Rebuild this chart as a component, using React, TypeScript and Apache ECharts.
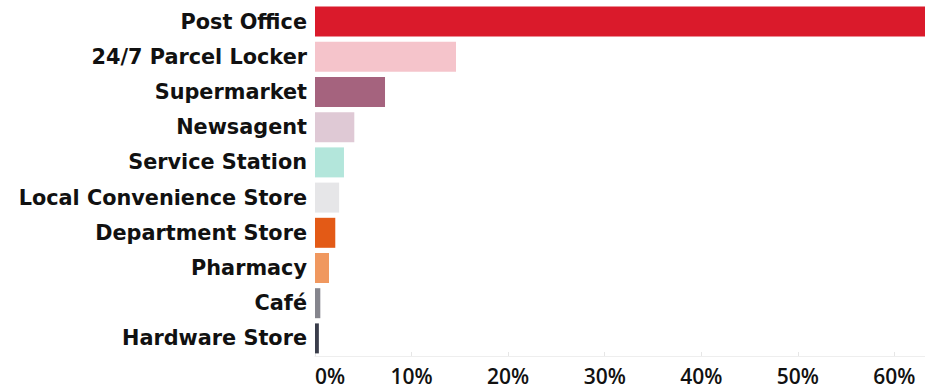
import React, { useEffect, useRef } from "react";
import * as echarts from "echarts";

const categories = [
  "Post Office",
  "24/7 Parcel Locker",
  "Supermarket",
  "Newsagent",
  "Service Station",
  "Local Convenience Store",
  "Department Store",
  "Pharmacy",
  "Café",
  "Hardware Store",
];
const values = [64, 14.6, 7.25, 4.07, 3.0, 2.5, 2.1, 1.45, 0.55, 0.4];
const colors = [
  "#DA1A2B",
  "#F5C4CB",
  "#A5637E",
  "#DFC9D5",
  "#B3E6DB",
  "#E6E6E8",
  "#E35A16",
  "#F0985F",
  "#85858D",
  "#3A3D4B",
];
const tickValues = [0, 10, 20, 30, 40, 50, 60, 70];

export default function App() {
  const ref = useRef<HTMLDivElement>(null);
  useEffect(() => {
    if (!ref.current) return;
    const chart = echarts.init(ref.current, null, { renderer: "svg" });
    chart.setOption({
      animation: false,
      grid: { left: 315, top: 4, bottom: 34, right: -66, outerBoundsMode: "none", containLabel: false },
      xAxis: {
        type: "value",
        min: tickValues[0],
        max: tickValues[tickValues.length - 1],
        interval: 10,
        axisLine: { show: true, lineStyle: { color: "#eeeeee", width: 1 } },
        axisTick: { show: true, inside: true, length: 4, lineStyle: { color: "#e6e6e6" } },
        splitLine: { show: false },
        axisLabel: {
          formatter: (v: number) => `${v}%`,
          color: "#111",
          fontFamily: "Open Sans",
          fontWeight: 600,
          fontSize: 21,
          margin: 9,
          alignMinLabel: "left",
          showMaxLabel: false,
        },
      },
      yAxis: {
        type: "category",
        data: categories,
        inverse: true,
        axisLine: { show: false },
        axisTick: { show: false },
        axisLabel: {
          color: "#111",
          fontFamily: "DejaVu Sans",
          fontWeight: "bold",
          fontSize: 20.8,
          margin: 8,
        },
      },
      series: [
        {
          type: "bar",
          data: values.map((v, i) => ({ value: v, itemStyle: { color: colors[i] } })),
          barWidth: 30,
        },
      ],
    });
    return () => chart.dispose();
  }, []);
  return (
    <div
      ref={ref}
      style={{ position: "fixed", left: 0, top: 0, width: 925, height: 390, background: "#fff" }}
    />
  );
}
